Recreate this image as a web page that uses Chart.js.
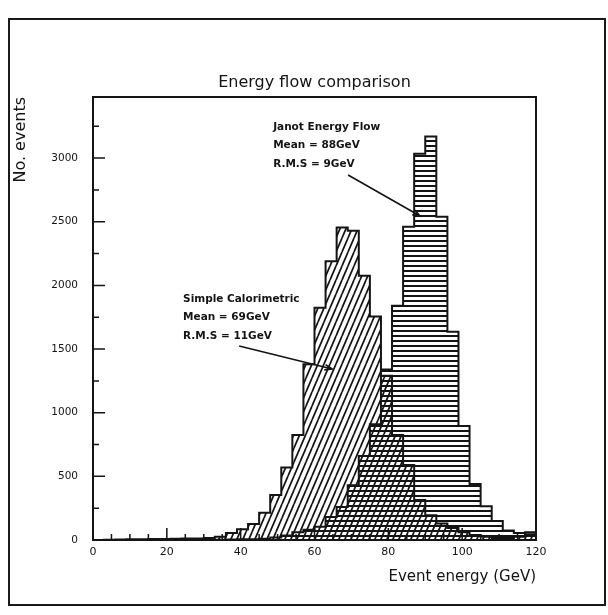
<!DOCTYPE html>
<html>
<head>
<meta charset="utf-8">
<title>Energy flow comparison</title>
<script src="https://cdn.jsdelivr.net/npm/chart.js@4.4.1/dist/chart.umd.min.js"></script>
<style>
  body { margin: 0; background: #fff; }
  #page { position: relative; width: 608px; height: 615px; }
  #frame { position: absolute; left: 8px; top: 18px; width: 594px; height: 584px; border: 2px solid #1a1a1a; }
  #myChart { position: absolute; left: 0; top: 0; }
</style>
</head>
<body>
<div id="page">
  <div id="frame"></div>
  <canvas id="myChart" width="608" height="615"></canvas>
</div>
<script>
// lower edge of every 3 GeV bin, the last bin closes at binTop
var binEdges = [0, 3, 6, 9, 12, 15, 18, 21, 24, 27,
                30, 33, 36, 39, 42, 45, 48, 51, 54, 57,
                60, 63, 66, 69, 72, 75, 78, 81, 84, 87,
                90, 93, 96, 99, 102, 105, 108, 111, 114, 117];
var binTop = 120;

var simpleCounts = [0, 2, 3, 5, 5, 8, 8, 10, 12, 12,
                    15, 25, 55, 85, 125, 215, 354, 570, 825, 1380,
                    1825, 2190, 2455, 2430, 2075, 1755, 1290, 825, 590, 315,
                    195, 130, 95, 60, 40, 25, 15, 15, 25, 45];

var janotCounts = [0, 0, 0, 0, 0, 0, 0, 0, 0, 0,
                   0, 2, 3, 5, 5, 10, 20, 35, 60, 80,
                   105, 180, 260, 430, 660, 910, 1340, 1840, 2460, 3035,
                   3170, 2540, 1635, 895, 440, 265, 150, 75, 55, 60];

var xTickLabels = [0, 20, 40, 60, 80, 100, 120];
var yTickLabels = [0, 500, 1000, 1500, 2000, 2500, 3000];

var janotNote = ['Janot Energy Flow', 'Mean = 88GeV', 'R.M.S = 9GeV'];
var simpleNote = ['Simple Calorimetric', 'Mean = 69GeV', 'R.M.S = 11GeV'];

// where the notes sit, in axis units
var notes = [
    { lines: janotNote, at: [48.8, 3244], from: [69.1, 2867], to: [88.6, 2545] },
    { lines: simpleNote, at: [24.4, 1893], from: [39.6, 1524], to: [64.8, 1343] }
];

var ink = '#141414';

function diagPattern() {
    var c = document.createElement('canvas');
    c.width = 6; c.height = 14;
    var g = c.getContext('2d');
    g.strokeStyle = ink;
    g.lineWidth = 1.7;
    g.beginPath();
    for (var k = -1; k <= 1; k++) {
        g.moveTo(k * 6, 14);
        g.lineTo(k * 6 + 6, 0);
    }
    g.stroke();
    return g.createPattern(c, 'repeat');
}

function stripePattern() {
    var c = document.createElement('canvas');
    c.width = 4; c.height = 5;
    var g = c.getContext('2d');
    g.fillStyle = ink;
    g.fillRect(0, 0, 4, 2);
    return g.createPattern(c, 'repeat');
}

function steps(counts) {
    var pts = binEdges.map(function(e, i) { return {x: e, y: counts[i]}; });
    pts.push({x: binTop, y: counts[counts.length - 1]});
    return pts;
}

// inward tick marks, drawn under the histograms
var innerTicks = {
    id: 'innerTicks',
    beforeDatasetsDraw: function(chart) {
        var ctx = chart.ctx, a = chart.chartArea, x = chart.scales.x, y = chart.scales.y;
        ctx.save();
        ctx.strokeStyle = ink;
        ctx.lineWidth = 1.5;
        ctx.beginPath();
        for (var v = 5; v < 120; v += 5) {
            var px = x.getPixelForValue(v);
            var len = v % 20 === 0 ? 12 : 6;
            ctx.moveTo(px, a.bottom);
            ctx.lineTo(px, a.bottom - len);
        }
        for (var w = 250; w < y.max; w += 250) {
            var py = y.getPixelForValue(w);
            var l = w % 500 === 0 ? 12 : 6;
            ctx.moveTo(a.left, py);
            ctx.lineTo(a.left + l, py);
        }
        ctx.stroke();
        ctx.restore();
    }
};

// box round the plot, then the notes with their arrows
var boxAndNotes = {
    id: 'boxAndNotes',
    afterDatasetsDraw: function(chart) {
        var ctx = chart.ctx, a = chart.chartArea, x = chart.scales.x, y = chart.scales.y;
        ctx.save();
        ctx.strokeStyle = ink;
        ctx.lineWidth = 2;
        ctx.strokeRect(a.left, a.top, a.right - a.left, a.bottom - a.top);

        ctx.fillStyle = ink;
        ctx.font = 'bold 10.5px "DejaVu Sans"';
        ctx.textBaseline = 'middle';
        notes.forEach(function(n) {
            var tx = x.getPixelForValue(n.at[0]);
            var ty = y.getPixelForValue(n.at[1]);
            n.lines.forEach(function(s, i) { ctx.fillText(s, tx, ty + i * 18.5); });

            var x0 = x.getPixelForValue(n.from[0]), y0 = y.getPixelForValue(n.from[1]);
            var x1 = x.getPixelForValue(n.to[0]), y1 = y.getPixelForValue(n.to[1]);
            var ang = Math.atan2(y1 - y0, x1 - x0);
            ctx.lineWidth = 1.6;
            ctx.beginPath();
            ctx.moveTo(x0, y0);
            ctx.lineTo(x1, y1);
            ctx.moveTo(x1 - 8 * Math.cos(ang - 0.35), y1 - 8 * Math.sin(ang - 0.35));
            ctx.lineTo(x1, y1);
            ctx.lineTo(x1 - 8 * Math.cos(ang + 0.35), y1 - 8 * Math.sin(ang + 0.35));
            ctx.stroke();
        });
        ctx.restore();
    }
};

Chart.defaults.font.family = '"DejaVu Sans", sans-serif';
Chart.defaults.color = ink;

const ctx = document.getElementById('myChart');
chart = new Chart(ctx, {
    type: 'line',
    data: {
        datasets: [{
            label: 'Janot Energy Flow',
            data: steps(janotCounts),
            stepped: 'before',
            fill: 'origin',
            backgroundColor: stripePattern(),
            borderColor: ink,
            borderWidth: 2,
            pointRadius: 0,
            tension: 0
        }, {
            label: 'Simple Calorimetric',
            data: steps(simpleCounts),
            stepped: 'before',
            fill: 'origin',
            backgroundColor: diagPattern(),
            borderColor: ink,
            borderWidth: 2,
            pointRadius: 0,
            tension: 0
        }]
    },
    options: {
        responsive: false,
        animation: false,
        devicePixelRatio: 1,
        layout: {
            padding: { left: 0, right: 72, top: 0, bottom: 0 }
        },
        plugins: {
            legend: { display: false },
            tooltip: { enabled: false },
            title: {
                display: true,
                text: 'Energy flow comparison',
                fullSize: false,
                font: { size: 16, weight: 'normal' },
                padding: { top: 73.4, bottom: 4.4 }
            }
        },
        scales: {
            x: {
                type: 'linear',
                min: 0,
                max: 120,
                afterFit: function(s) { s.height = 75; },
                afterBuildTicks: function(s) {
                    s.ticks = xTickLabels.map(function(v) { return {value: v}; });
                },
                grid: { display: true, drawOnChartArea: false, drawTicks: false },
                border: { display: false },
                ticks: {
                    autoSkip: false,
                    maxRotation: 0,
                    padding: 6,
                    font: { size: 11 },
                    callback: function(val) { return String(val); }
                },
                title: {
                    display: true,
                    text: 'Event energy (GeV)',
                    align: 'end',
                    font: { size: 15 },
                    padding: { top: 4, bottom: 29 }
                }
            },
            y: {
                min: 0,
                max: 3480,
                afterFit: function(s) { s.width = 93; },
                afterBuildTicks: function(s) {
                    s.ticks = yTickLabels.map(function(v) { return {value: v}; });
                },
                grid: { display: true, drawOnChartArea: false, drawTicks: false },
                border: { display: false },
                ticks: {
                    padding: 15,
                    font: { size: 10.5 },
                    callback: function(val) { return String(val); }
                },
                title: {
                    display: true,
                    text: 'No. events',
                    align: 'end',
                    font: { size: 16 },
                    padding: { top: 11, bottom: 4 }
                }
            }
        }
    },
    plugins: [innerTicks, boxAndNotes]
});
</script>
</body>
</html>
